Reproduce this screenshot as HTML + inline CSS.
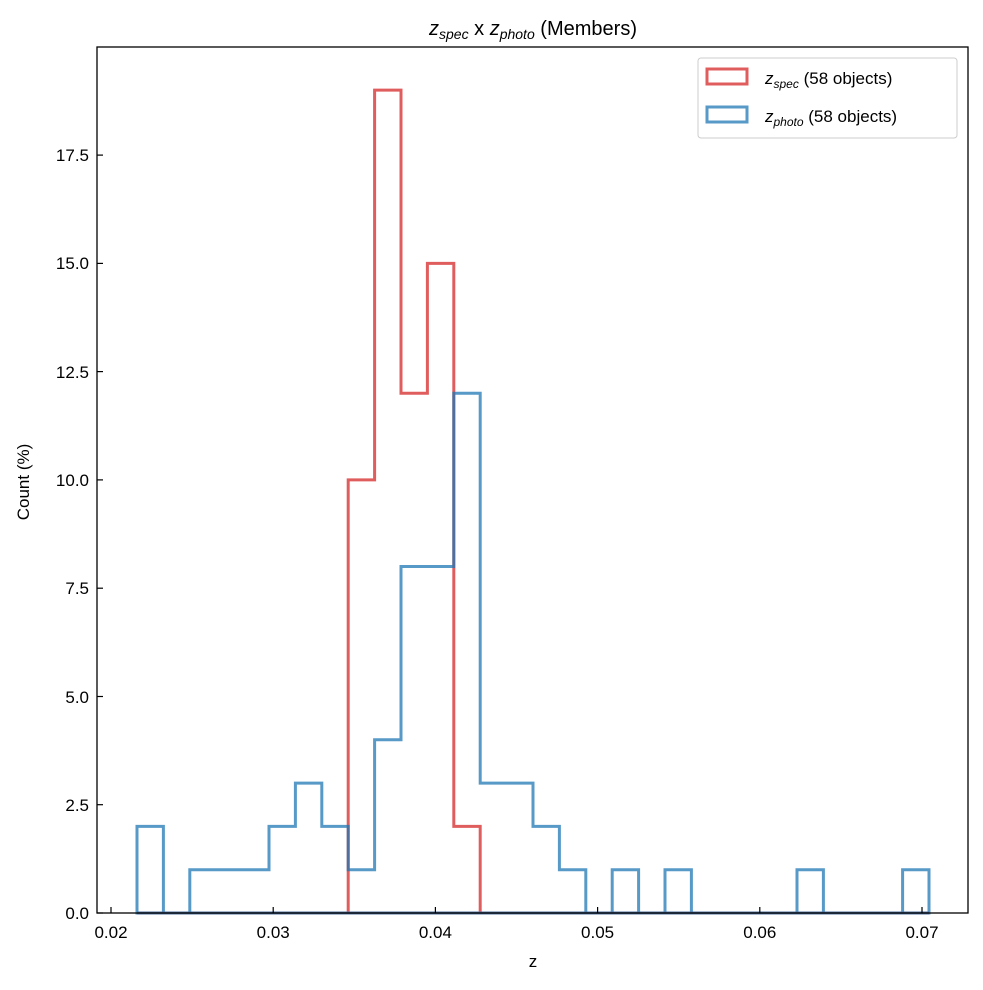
<!DOCTYPE html>
<html><head><meta charset="utf-8"><style>body{margin:0;background:#fff}</style></head><body>
<svg width="983" height="985" xmlns="http://www.w3.org/2000/svg" font-family="Liberation Sans, DejaVu Sans, sans-serif" font-size="17">
<rect width="983" height="985" fill="#fff"/>
<path d="M137,913 H348.2 V479.9 H374.6 V90.1 H401 V393.3 H427.4 V263.4 H453.8 V826.4 H480.2 V913 H929 Z" fill="none" stroke="#d62728" stroke-opacity="0.75" stroke-width="3"/>
<path d="M137,913 V826.4 H163.4 V913 H189.8 V869.7 H269 V826.4 H295.4 V783.1 H321.8 V826.4 H348.2 V869.7 H374.6 V739.8 H401 V566.5 H453.8 V393.3 H480.2 V783.1 H533 V826.4 H559.4 V869.7 H585.8 V913 H612.2 V869.7 H638.6 V913 H665 V869.7 H691.4 V913 H797 V869.7 H823.4 V913 H902.6 V869.7 H929 V913 Z" fill="none" stroke="#1f77b4" stroke-opacity="0.75" stroke-width="3"/>
<rect x="97" y="47" width="871" height="866" fill="none" stroke="#000" stroke-width="1.3"/>
<g stroke="#000" stroke-width="1.2">
<line x1="111" y1="913" x2="111" y2="907"/><line x1="273.2" y1="913" x2="273.2" y2="907"/><line x1="435.4" y1="913" x2="435.4" y2="907"/><line x1="597.6" y1="913" x2="597.6" y2="907"/><line x1="759.8" y1="913" x2="759.8" y2="907"/><line x1="922" y1="913" x2="922" y2="907"/>
<line x1="97" y1="913" x2="103" y2="913"/><line x1="97" y1="804.7" x2="103" y2="804.7"/><line x1="97" y1="696.5" x2="103" y2="696.5"/><line x1="97" y1="588.2" x2="103" y2="588.2"/><line x1="97" y1="479.9" x2="103" y2="479.9"/><line x1="97" y1="371.6" x2="103" y2="371.6"/><line x1="97" y1="263.4" x2="103" y2="263.4"/><line x1="97" y1="155.1" x2="103" y2="155.1"/>
</g>
<g text-anchor="middle">
<text x="111" y="938">0.02</text><text x="273.2" y="938">0.03</text><text x="435.4" y="938">0.04</text><text x="597.6" y="938">0.05</text><text x="759.8" y="938">0.06</text><text x="922" y="938">0.07</text>
<text x="533" y="967">z</text>
</g>
<g text-anchor="end">
<text x="89" y="919">0.0</text><text x="89" y="811">2.5</text><text x="89" y="703">5.0</text><text x="89" y="594">7.5</text><text x="89" y="486">10.0</text><text x="89" y="378">12.5</text><text x="89" y="269">15.0</text><text x="89" y="161">17.5</text>
</g>
<text transform="translate(29,482) rotate(-90)" text-anchor="middle">Count (%)</text>
<text x="533" y="35" text-anchor="middle" font-size="20"><tspan font-style="italic">z</tspan><tspan font-size="14" font-style="italic" dy="4">spec</tspan><tspan dy="-4"> x </tspan><tspan font-style="italic">z</tspan><tspan font-size="14" font-style="italic" dy="4">photo</tspan><tspan dy="-4"> (Members)</tspan></text>
<rect x="698" y="58" width="259" height="80" rx="3" fill="#fff" stroke="#ccc" stroke-width="1"/>
<rect x="707" y="69" width="40" height="15" fill="none" stroke="#d62728" stroke-opacity="0.75" stroke-width="3"/>
<rect x="707" y="107" width="40" height="15" fill="none" stroke="#1f77b4" stroke-opacity="0.75" stroke-width="3"/>
<text x="765" y="84"><tspan font-style="italic">z</tspan><tspan font-size="12" font-style="italic" dy="4">spec</tspan><tspan dy="-4"> (58 objects)</tspan></text>
<text x="765" y="122"><tspan font-style="italic">z</tspan><tspan font-size="12" font-style="italic" dy="4">photo</tspan><tspan dy="-4"> (58 objects)</tspan></text>
</svg>
</body></html>
